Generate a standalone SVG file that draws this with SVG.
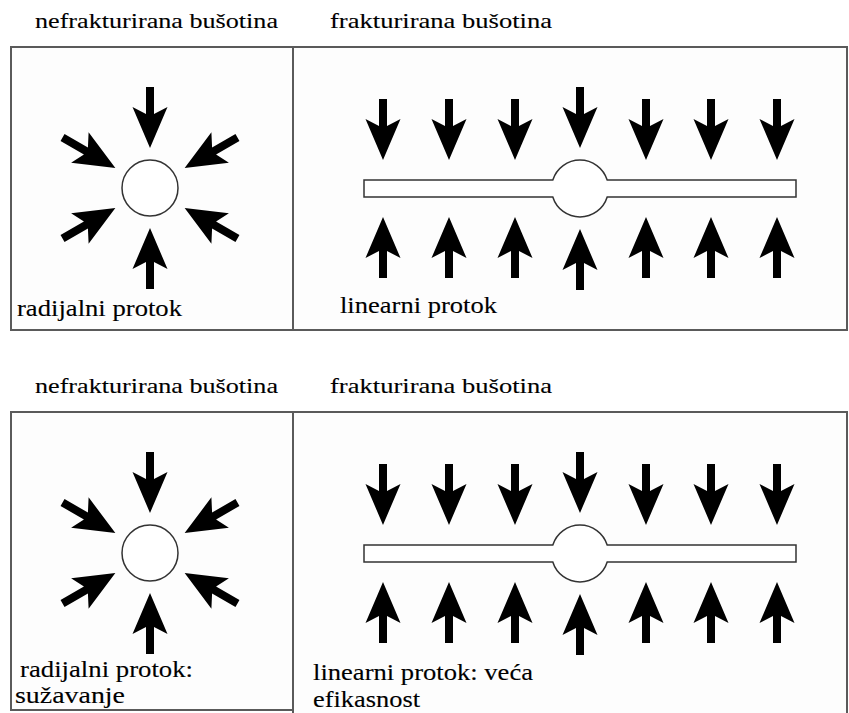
<svg xmlns="http://www.w3.org/2000/svg" xmlns:xlink="http://www.w3.org/1999/xlink" width="849" height="713" viewBox="0 0 849 713">
<style>
.panel{fill:#fdfdfd;stroke:#5a5a5a;stroke-width:2}
.well{fill:#fff;stroke:#333;stroke-width:1.5}
.arr{fill:#000}
.h{font-size:22px}
.t{font-size:23px}
text{stroke:#000;stroke-width:0.12}
</style>
<defs>
<path id="arrow" d="M0,0 L-41,-17.5 L-34,-4 L-61,-4 L-61,4 L-34,4 L-41,17.5 Z"/>
<g id="radial">
<use xlink:href="#arrow" class="arr" transform="rotate(90) translate(-40,0)"/>
<use xlink:href="#arrow" class="arr" transform="rotate(-90) translate(-40,0)"/>
<use xlink:href="#arrow" class="arr" transform="rotate(30) translate(-40,0)"/>
<use xlink:href="#arrow" class="arr" transform="rotate(150) translate(-40,0)"/>
<use xlink:href="#arrow" class="arr" transform="rotate(-30) translate(-40,0)"/>
<use xlink:href="#arrow" class="arr" transform="rotate(-150) translate(-40,0)"/>
<circle cx="0" cy="0" r="28" class="well"/>
</g>
<g id="linear">
<path class="well" d="M364,180 H552.8 A28.5,28.5 0 0 1 607.2,180 H796 V197 H607.2 A28.5,28.5 0 0 1 552.8,197 H364 Z"/>
<use xlink:href="#arrow" class="arr" transform="translate(383,160) rotate(90)"/>
<use xlink:href="#arrow" class="arr" transform="translate(449,160) rotate(90)"/>
<use xlink:href="#arrow" class="arr" transform="translate(515,160) rotate(90)"/>
<use xlink:href="#arrow" class="arr" transform="translate(580,148) rotate(90)"/>
<use xlink:href="#arrow" class="arr" transform="translate(646,160) rotate(90)"/>
<use xlink:href="#arrow" class="arr" transform="translate(711,160) rotate(90)"/>
<use xlink:href="#arrow" class="arr" transform="translate(777,160) rotate(90)"/>
<use xlink:href="#arrow" class="arr" transform="translate(383,217) rotate(-90)"/>
<use xlink:href="#arrow" class="arr" transform="translate(449,217) rotate(-90)"/>
<use xlink:href="#arrow" class="arr" transform="translate(515,217) rotate(-90)"/>
<use xlink:href="#arrow" class="arr" transform="translate(580,229) rotate(-90)"/>
<use xlink:href="#arrow" class="arr" transform="translate(646,217) rotate(-90)"/>
<use xlink:href="#arrow" class="arr" transform="translate(711,217) rotate(-90)"/>
<use xlink:href="#arrow" class="arr" transform="translate(777,217) rotate(-90)"/>
</g>
</defs>
<rect width="849" height="713" fill="#ffffff"/>

<g font-family="Liberation Serif, Times New Roman, serif" fill="#000">
<g id="top-unfractured">
<text class="h" x="35" y="28" textLength="243" lengthAdjust="spacingAndGlyphs">nefrakturirana bušotina</text>
<rect class="panel" x="11" y="47" width="282" height="283"/>
<use xlink:href="#radial" transform="translate(150,188)"/>
<text class="t" x="17" y="316" textLength="165" lengthAdjust="spacingAndGlyphs">radijalni protok</text>
</g>
<g id="top-fractured">
<text class="h" x="330" y="28" textLength="222" lengthAdjust="spacingAndGlyphs">frakturirana bušotina</text>
<rect class="panel" x="293" y="47" width="554" height="283"/>
<use xlink:href="#linear"/>
<text class="t" x="340" y="313" textLength="157" lengthAdjust="spacingAndGlyphs">linearni protok</text>
</g>

<g id="bottom-unfractured">
<text class="h" x="35" y="393" textLength="243" lengthAdjust="spacingAndGlyphs">nefrakturirana bušotina</text>
<rect class="panel" x="11" y="412" width="282" height="298"/>
<use xlink:href="#radial" transform="translate(150,553)"/>
<text class="t" x="20" y="677" textLength="173" lengthAdjust="spacingAndGlyphs">radijalni protok:</text>
<text class="t" x="15" y="703" textLength="110" lengthAdjust="spacingAndGlyphs">sužavanje</text>
</g>
<g id="bottom-fractured">
<text class="h" x="330" y="393" textLength="222" lengthAdjust="spacingAndGlyphs">frakturirana bušotina</text>
<rect class="panel" x="293" y="412" width="554" height="320"/>
<use xlink:href="#linear" transform="translate(0,365)"/>
<text class="t" x="313" y="680" textLength="220" lengthAdjust="spacingAndGlyphs">linearni protok: veća</text>
<text class="t" x="313" y="707" textLength="107" lengthAdjust="spacingAndGlyphs">efikasnost</text>
</g>
</g>
</svg>
